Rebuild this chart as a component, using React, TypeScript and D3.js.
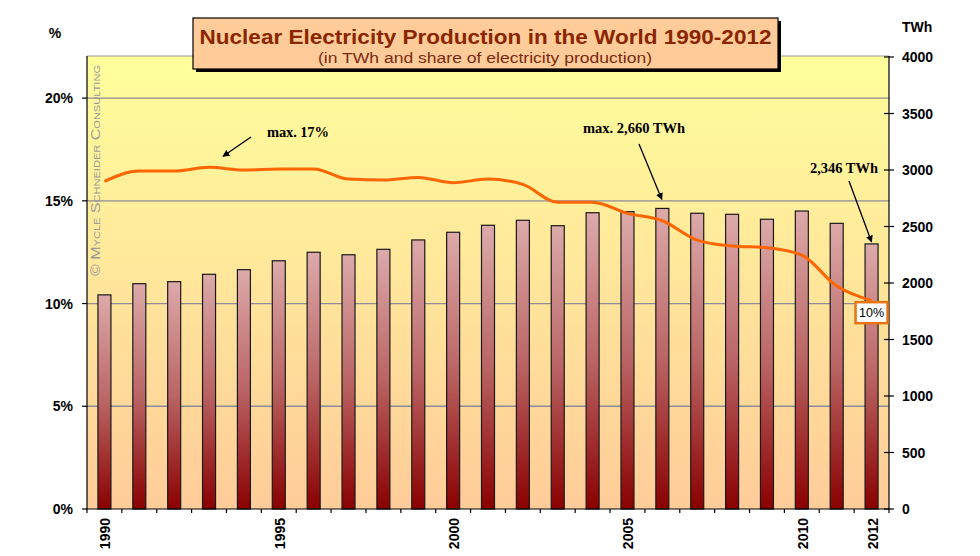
import React from 'react';
import * as d3 from 'd3';

const years = ['1990','1991','1992','1993','1994','1995','1996','1997','1998','1999','2000','2001','2002','2003','2004','2005','2006','2007','2008','2009','2010','2011','2012'];
const twh = [1895, 1994, 2012, 2077, 2118, 2197, 2272, 2250, 2298, 2381, 2449, 2511, 2555, 2507, 2622, 2631, 2660, 2617, 2608, 2564, 2637, 2528, 2346];
const share = [15.95, 16.45, 16.45, 16.63, 16.5, 16.55, 16.55, 16.06, 16.01, 16.14, 15.88, 16.06, 15.8, 14.93, 14.93, 14.39, 14.03, 13.09, 12.8, 12.72, 12.36, 10.85, 10.14];
const pctTicks = [0, 5, 10, 15, 20];
const twhTicks = [0, 500, 1000, 1500, 2000, 2500, 3000, 3500, 4000];
const yearLabels = ['1990', '1995', '2000', '2005', '2010', '2012'];
const titleText = 'Nuclear Electricity Production in the World 1990-2012';
const subtitleText = '(in TWh and share of electricity production)';
const copyrightText = '\u00A9 Mycle Schneider Consulting';

const W = 980, H = 556;
const L = 87, R = 889, T = 56, B = 509;
const SANS = '"Liberation Sans", Arial, sans-serif';
const SERIF = '"Liberation Serif", "Times New Roman", serif';

export default function App() {
  const x = d3.scaleBand<string>().domain(years).range([L, R]).paddingInner(0.627).paddingOuter(0.3135);
  const step = x.step();
  const bw = x.bandwidth();
  const xc = (y: string) => (x(y) as number) + bw / 2;
  const yP = d3.scaleLinear().domain([0, 22]).range([B, 57]);
  const yT = d3.scaleLinear().domain([0, 4000]).range([B, 57]);
  const line = d3.line<number>().x((_, i) => xc(years[i])).y(d => yP(d)).curve(d3.curveMonotoneX);
  const tickXs = d3.range(years.length + 1).map(i => L + i * step);

  const i06 = years.indexOf('2006');
  const i12 = years.indexOf('2012');
  const i93 = years.indexOf('1993');

  return (
    <svg width={W} height={H} style={{ position: 'absolute', left: 0, top: 0, background: '#fff' }} fontFamily={SANS}>
      <defs>
        <linearGradient id="bg" x1="0" y1="0" x2="0" y2="1">
          <stop offset="0" stopColor="#FFFF9C" />
          <stop offset="1" stopColor="#FFCC99" />
        </linearGradient>
        <linearGradient id="bar" x1="0" y1="0" x2="0" y2="1">
          <stop offset="0" stopColor="#DDAAAA" />
          <stop offset="0.5" stopColor="#BA6464" />
          <stop offset="1" stopColor="#8A0000" />
        </linearGradient>
        <marker id="ah" viewBox="0 0 10 10" refX="9" refY="5" markerWidth="7" markerHeight="7" orient="auto-start-reverse" markerUnits="userSpaceOnUse">
          <path d="M0,0 L10,5 L0,10 z" fill="#000" />
        </marker>
      </defs>

      <rect x={L} y={T} width={R - L} height={B - T} fill="url(#bg)" />
      <line x1={L} x2={R} y1={T} y2={T} stroke="#9a9a9a" strokeWidth={1} />

      {pctTicks.filter(t => t > 0).map(t => (
        <line key={t} x1={L} x2={R} y1={yP(t)} y2={yP(t)} stroke="#8C8C9A" strokeWidth={1.3} />
      ))}

      {years.map((yr, i) => (
        <rect key={yr} x={x(yr)} y={yT(twh[i])} width={bw} height={B - yT(twh[i])} fill="url(#bar)" stroke="#1a1a1a" strokeWidth={1.2} />
      ))}

      <path d={line(share) || ''} fill="none" stroke="#FF6600" strokeWidth={3} strokeLinejoin="round" />

      {/* copyright */}
      <text transform={`translate(100,276) rotate(-90)`} fontSize={13} fill="#9a9a9a" style={{ fontVariant: 'small-caps' }} textLength={211} lengthAdjust="spacingAndGlyphs">{copyrightText}</text>

      {/* axes */}
      <line x1={L} x2={L} y1={T} y2={B} stroke="#000" strokeWidth={1.2} />
      <line x1={R} x2={R} y1={T} y2={B} stroke="#000" strokeWidth={1.2} />
      <line x1={L - 1} x2={R + 1} y1={B} y2={B} stroke="#000" strokeWidth={1.2} />
      {pctTicks.map(t => (
        <g key={t}>
          <line x1={L - 5} x2={L} y1={yP(t)} y2={yP(t)} stroke="#000" strokeWidth={1.2} />
          <text x={73} y={yP(t)} textAnchor="end" dominantBaseline="central" fontSize={14} fontWeight="bold">{t}%</text>
        </g>
      ))}
      <text x={55} y={33} textAnchor="middle" dominantBaseline="central" fontSize={14} fontWeight="bold">%</text>
      {twhTicks.map(t => (
        <g key={t}>
          <line x1={R - 5} x2={R + 5} y1={yT(t)} y2={yT(t)} stroke="#000" strokeWidth={1.2} />
          <text x={902} y={yT(t)} dominantBaseline="central" fontSize={14} fontWeight="bold">{t}</text>
        </g>
      ))}
      <text x={902} y={27} dominantBaseline="central" fontSize={14} fontWeight="bold">TWh</text>
      {tickXs.map((tx, i) => (
        <line key={i} x1={tx} x2={tx} y1={B} y2={B + 4} stroke="#000" strokeWidth={1.2} />
      ))}
      {yearLabels.map(yr => (
        <text key={yr} transform={`translate(${xc(yr) + 1},518) rotate(-90)`} textAnchor="end" dominantBaseline="central" fontSize={14} fontWeight="bold">{yr}</text>
      ))}

      {/* annotations */}
      <text x={267} y={137} fontFamily={SERIF} fontWeight="bold" fontSize={14.5} textLength={62}>max. 17%</text>
      <line x1={251} y1={137} x2={xc(years[i93]) + 14} y2={yP(share[i93]) - 11} stroke="#000" strokeWidth={1.3} markerEnd="url(#ah)" />
      <text x={583} y={133} fontFamily={SERIF} fontWeight="bold" fontSize={14.5} textLength={102}>max. 2,660 TWh</text>
      <line x1={639} y1={144} x2={xc(years[i06]) - 0.5} y2={yT(twh[i06]) - 9} stroke="#000" strokeWidth={1.3} markerEnd="url(#ah)" />
      <text x={810} y={173} fontFamily={SERIF} fontWeight="bold" fontSize={14.5} textLength={68}>2,346 TWh</text>
      <line x1={849} y1={181} x2={xc(years[i12])} y2={yT(twh[i12]) - 2} stroke="#000" strokeWidth={1.3} markerEnd="url(#ah)" />

      {/* 10% label */}
      <rect x={xc(years[i12]) - 16} y={yP(share[i12]) + 1.5} width={32} height={21} fill="#fff" stroke="#E8730F" strokeWidth={2.5} />
      <text x={xc(years[i12])} y={yP(share[i12]) + 12.5} textAnchor="middle" dominantBaseline="central" fontSize={12.5}>{Math.round(share[i12])}%</text>

      {/* title */}
      <rect x={196} y={21} width={585} height={51} fill="#000" />
      <rect x={193} y={18} width={585} height={51} fill="#FFCC99" stroke="#000" strokeWidth={1.2} />
      <text x={485.5} y={44} textAnchor="middle" fontSize={21} fontWeight="bold" fill="#8B2500" textLength={572} lengthAdjust="spacingAndGlyphs">{titleText}</text>
      <text x={485} y={63} textAnchor="middle" fontSize={15.5} fill="#7A2A10" textLength={334} lengthAdjust="spacingAndGlyphs">{subtitleText}</text>
    </svg>
  );
}
